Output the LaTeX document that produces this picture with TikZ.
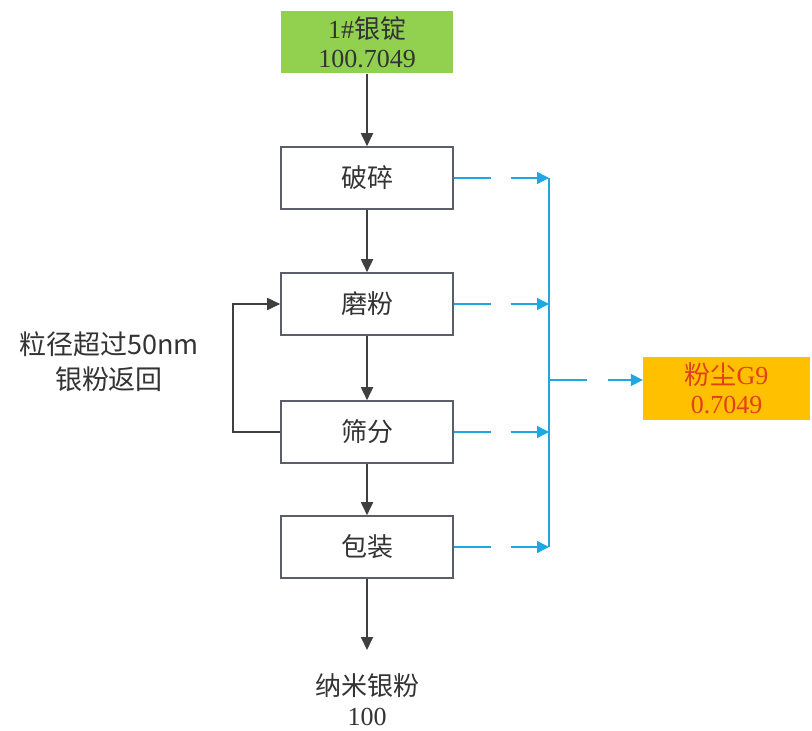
\documentclass[tikz,border=0pt]{standalone}
\usepackage{fontspec}
\setmainfont{Liberation Serif}
\newfontfamily\cjk{Noto Sans CJK SC}
\usetikzlibrary{arrows.meta}
\definecolor{boxline}{HTML}{5A5E6B}
\definecolor{arr}{HTML}{3F3F3F}
\definecolor{blu}{HTML}{1FA7E0}
\definecolor{grn}{HTML}{92D050}
\definecolor{org}{HTML}{FFC000}
\definecolor{redt}{HTML}{E2401A}
\definecolor{txt}{HTML}{333333}
\begin{document}
\begin{tikzpicture}[x=1pt,y=-1pt,
  stepbox/.style={draw=boxline,line width=1.6pt,fill=white,minimum width=172pt,minimum height=62pt,inner sep=0pt,font=\fontsize{26}{29}\selectfont\cjk,text=txt},
  flow/.style={draw=arr,line width=1.8pt,-{Triangle[length=13pt,width=12pt]}},
  bflow/.style={draw=blu,line width=1.5pt,-{Triangle[length=12pt,width=12pt]}}]
\useasboundingbox (0,0) rectangle (812,731);
\node[stepbox,draw=none,fill=grn,align=center,font=\fontsize{26}{29}\selectfont] (ingot) at (367,42) {1\#{\cjk 银锭}\\100.7049};
\node[stepbox] (posui) at (367,178) {破碎};
\node[stepbox] (mofen) at (367,304) {磨粉};
\node[stepbox] (shai) at (367,432) {筛分};
\node[stepbox] (bao) at (367,547) {包装};
\node[draw=none,fill=org,minimum width=167pt,minimum height=63pt,inner sep=0pt,align=center,text=redt,font=\fontsize{26}{29}\selectfont] (dust) at (726.5,388.5) {{\cjk 粉尘}G9\\0.7049};
\node[align=center,text=txt,font=\fontsize{27}{35}\selectfont\cjk] (ret) at (109,362) {粒径超过50nm\\银粉返回};
\node[align=center,text=txt,font=\fontsize{26}{30}\selectfont] (prod) at (367,700) {{\cjk 纳米银粉}\\100};
\coordinate (out) at (367,650);
\coordinate (b1) at (549,178);
\coordinate (b2) at (549,304);
\coordinate (b3) at (549,432);
\coordinate (b4) at (549,547);
\coordinate (bm) at (549,380);
\coordinate (fb) at (233,432);
\draw[flow] (ingot) -- (posui);
\draw[flow] (posui) -- (mofen);
\draw[flow] (mofen) -- (shai);
\draw[flow] (shai) -- (bao);
\draw[flow] (bao.south) -- (out);
\draw[flow] (shai.west) -- (fb) |- (mofen.west);
\draw[blu,line width=1.5pt] (b1) -- (b4);
\foreach \n/\c in {posui/b1,mofen/b2,shai/b3,bao/b4}{
  \draw[bflow,dash pattern=on 37pt off 20pt] (\n.east) -- (\c);
}
\draw[bflow,dash pattern=on 38pt off 21pt] (bm) -- (dust.west |- bm);
\end{tikzpicture}
\end{document}
